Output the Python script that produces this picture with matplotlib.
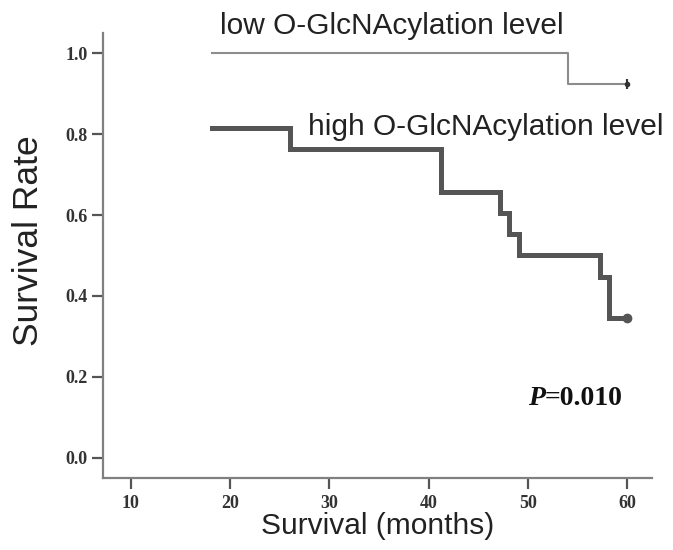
import numpy as np
import matplotlib
matplotlib.use("Agg")
import matplotlib.pyplot as plt

# Kaplan-Meier steps
low_time = [18.2, 54.0, 60.0]
low_surv = [1.0, 0.923, 0.923]

high_time = [18.2, 26.0, 41.2, 47.2, 48.1, 49.1, 57.2, 58.2, 60.0]
high_surv = [0.815, 0.763, 0.657, 0.605, 0.553, 0.501, 0.447, 0.346, 0.346]

x_ticks = [10, 20, 30, 40, 50, 60]
y_ticks = [0.0, 0.2, 0.4, 0.6, 0.8, 1.0]

low_label = "low O-GlcNAcylation level"
high_label = "high O-GlcNAcylation level"
p_text = "=0.010"

plt.rcParams["font.family"] = ["Liberation Sans", "DejaVu Sans"]

fig = plt.figure(figsize=(6.73, 5.5), dpi=100)
ax = fig.add_axes([0.153, 0.131, 0.816, 0.809])

ax.plot(low_time, low_surv, drawstyle="steps-post", color="#8c8c8c", lw=1.5)
ax.plot(low_time[-1], low_surv[-1], marker="|", color="#333333", ms=7, mew=1.5)
ax.plot(low_time[-1], low_surv[-1], marker="o", color="#333333", ms=3)

ax.plot(high_time, high_surv, drawstyle="steps-post", color="#555555", lw=3.6,
        solid_joinstyle="miter")
ax.plot(high_time[-1], high_surv[-1], marker="o", color="#555555", ms=6)

ax.set_xlim(7.2, 62.5)
ax.set_ylim(-0.05, 1.05)
ax.set_xticks(x_ticks)
ax.set_yticks(y_ticks)
ax.set_xticklabels([str(v) for v in x_ticks])
ax.set_yticklabels([f"{v:.1f}" for v in y_ticks])

for side in ["top", "right"]:
    ax.spines[side].set_visible(False)
for side in ["left", "bottom"]:
    ax.spines[side].set_color("#808080")
    ax.spines[side].set_linewidth(1.6)

ax.tick_params(axis="both", color="#555555", width=1.6, length=8, pad=3)
ax.tick_params(axis="x", pad=4)
for lab in ax.get_xticklabels() + ax.get_yticklabels():
    lab.set_fontfamily(["Liberation Serif", "DejaVu Serif"])
    lab.set_fontweight("bold")
    lab.set_fontsize(13)
    lab.set_color("#333333")

ax.set_xlabel("Survival (months)", fontsize=21.5, color="#222222", labelpad=0)
ax.set_ylabel("Survival Rate", fontsize=25.5, color="#222222")
ax.yaxis.set_label_coords(-0.105, 0.533)

ax.text(19.0, 1.047, low_label, fontsize=21.5, color="#222222",
        ha="left", va="baseline", clip_on=False)
ax.text(27.8, 0.798, high_label, fontsize=21.5, color="#222222",
        ha="left", va="baseline")

ax.text(51.7, 0.131, "P", fontsize=20, fontweight="bold", fontstyle="italic",
        family=["Liberation Serif", "DejaVu Serif"], ha="right", va="baseline",
        color="#111111")
ax.text(51.7, 0.131, p_text, fontsize=20, fontweight="bold",
        family=["Liberation Serif", "DejaVu Serif"], ha="left", va="baseline",
        color="#111111")

fig.savefig("out.png", dpi=100)
